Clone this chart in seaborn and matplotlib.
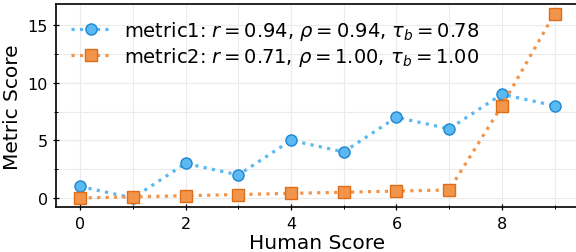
import numpy as np
import pandas as pd
import matplotlib
matplotlib.use("Agg")
import matplotlib.pyplot as plt
from matplotlib.ticker import MultipleLocator
import seaborn as sns

# data
human = [0, 1, 2, 3, 4, 5, 6, 7, 8, 9]
metric1 = [1, 0, 3, 2, 5, 4, 7, 6, 9, 8]
metric2 = [0, 0.1, 0.2, 0.3, 0.4, 0.5, 0.6, 0.7, 8, 16]
label1 = r'metric1: $r = 0.94$, $\rho = 0.94$, $\tau_b = 0.78$'
label2 = r'metric2: $r = 0.71$, $\rho = 1.00$, $\tau_b = 1.00$'

sns.set_style("whitegrid")
plt.rcParams['font.family'] = ['DejaVu Sans']
plt.rcParams['text.color'] = 'black'
plt.rcParams['axes.labelcolor'] = 'black'
plt.rcParams['xtick.color'] = 'black'
plt.rcParams['ytick.color'] = 'black'

fig = plt.figure(figsize=(5.76, 2.53), dpi=100)
ax = fig.add_axes([0.098, 0.177, 0.906, 0.802])

sns.lineplot(x=human, y=metric1, ax=ax, color='#5ab8f2', linestyle=':', linewidth=2.3,
             marker='o', markersize=8, markerfacecolor='#5ab8f2', markeredgecolor='#1f86cf',
             markeredgewidth=1.0, label=label1)
sns.lineplot(x=human, y=metric2, ax=ax, color='#f2954a', linestyle=':', linewidth=2.3,
             marker='s', markersize=8, markerfacecolor='#f2954a', markeredgecolor='#df6d17',
             markeredgewidth=1.0, label=label2)

ax.set_xlim(-0.45, 9.45)
ax.set_ylim(-0.8, 16.8)
ax.xaxis.set_major_locator(MultipleLocator(2))
ax.xaxis.set_minor_locator(MultipleLocator(1))
ax.yaxis.set_major_locator(MultipleLocator(5))
ax.yaxis.set_minor_locator(MultipleLocator(2.5))
ax.grid(which='both', color='#ebebeb', linewidth=0.8)
ax.set_axisbelow(True)

for side in ['left', 'bottom', 'top', 'right']:
    ax.spines[side].set_color('black')
    ax.spines[side].set_linewidth(1.2)

ax.tick_params(which='major', direction='inout', length=5, width=0.9, labelsize=11.5,
               color='black', labelcolor='black', bottom=True, left=True)
ax.tick_params(which='minor', direction='inout', length=3, width=0.7,
               color='black', bottom=True, left=True)

ax.set_xlabel('Human Score', fontsize=14.5, labelpad=2, color='black')
ax.set_ylabel('Metric Score', fontsize=14.5, labelpad=4, color='black')

leg = ax.legend(loc='upper left', frameon=False, fontsize=14, handlelength=2.1,
                borderaxespad=0.35, labelspacing=0.15, handletextpad=0.6)
for t in leg.get_texts():
    t.set_color('black')

fig.savefig('out.png', dpi=100)
